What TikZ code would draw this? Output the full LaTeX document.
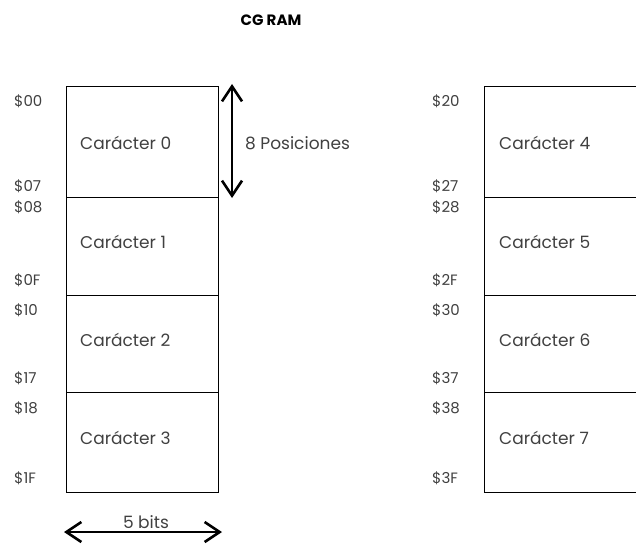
\documentclass[tikz,border=0pt]{standalone}
\usepackage{fontspec}
\setmainfont{Poppins}
\usetikzlibrary{arrows.meta}
\begin{document}
\begin{tikzpicture}[x=1pt,y=-1pt,
  cell/.style={draw=black,line width=1.2pt,minimum width=152pt,minimum height=98pt,inner sep=0pt,anchor=north west},
  chr/.style={text=black!75,font=\fontsize{17}{19}\selectfont,anchor=west,inner sep=0pt},
  addr/.style={text=black!75,font=\fontsize{15}{17}\selectfont,anchor=west,inner sep=0pt},
  dim/.style={line width=1.6pt,{Straight Barb[length=15pt,width=20pt,line width=2.6pt]}-{Straight Barb[length=15pt,width=20pt,line width=2.6pt]}}]
\useasboundingbox (0,0) rectangle (636,548);
% title
\node[font=\bfseries\fontsize{15}{17}\selectfont] (title) at (271,20) {CG RAM};
% left column
\node[cell,minimum height=111pt] (c0) at (66,86) {};
\node[cell] (c1) at (66,197) {};
\node[cell,minimum height=97pt] (c2) at (66,295) {};
\node[cell,minimum height=100pt] (c3) at (66,392) {};
\node[chr] (t0) at (80,143) {Carácter 0};
\node[chr] (t1) at (80,242) {Carácter 1};
\node[chr] (t2) at (80,340) {Carácter 2};
\node[chr] (t3) at (80,438) {Carácter 3};
% right column
\node[cell,minimum height=111pt] (c4) at (484,86) {};
\node[cell] (c5) at (484,197) {};
\node[cell,minimum height=97pt] (c6) at (484,295) {};
\node[cell,minimum height=100pt] (c7) at (484,392) {};
\node[chr] (t4) at (499,143) {Carácter 4};
\node[chr] (t5) at (499,242) {Carácter 5};
\node[chr] (t6) at (499,340) {Carácter 6};
\node[chr] (t7) at (499,438) {Carácter 7};
% addresses left
\node[addr] (a00) at (14,101) {\$00};
\node[addr] (a07) at (14,186) {\$07};
\node[addr] (a08) at (14,207) {\$08};
\node[addr] (a0F) at (14,280) {\$0F};
\node[addr] (a10) at (14,310) {\$10};
\node[addr] (a17) at (14,378) {\$17};
\node[addr] (a18) at (14,408) {\$18};
\node[addr] (a1F) at (14,478) {\$1F};
% addresses right
\node[addr] (a20) at (432,101) {\$20};
\node[addr] (a27) at (432,186) {\$27};
\node[addr] (a28) at (432,207) {\$28};
\node[addr] (a2F) at (432,280) {\$2F};
\node[addr] (a30) at (432,310) {\$30};
\node[addr] (a37) at (432,378) {\$37};
\node[addr] (a38) at (432,408) {\$38};
\node[addr] (a3F) at (432,478) {\$3F};
% dimension arrows
\coordinate (vtop) at (232,84);
\coordinate (vbot) at (232,198);
\draw[dim] (vtop) -- (vbot);
\node[chr] (pos) at (245,143) {8 Posiciones};
\coordinate (hl) at (64,532);
\coordinate (hr) at (222,532);
\draw[dim] (hl) -- (hr);
\node[chr,anchor=center] (bits) at (146,522) {5 bits};
\end{tikzpicture}
\end{document}
